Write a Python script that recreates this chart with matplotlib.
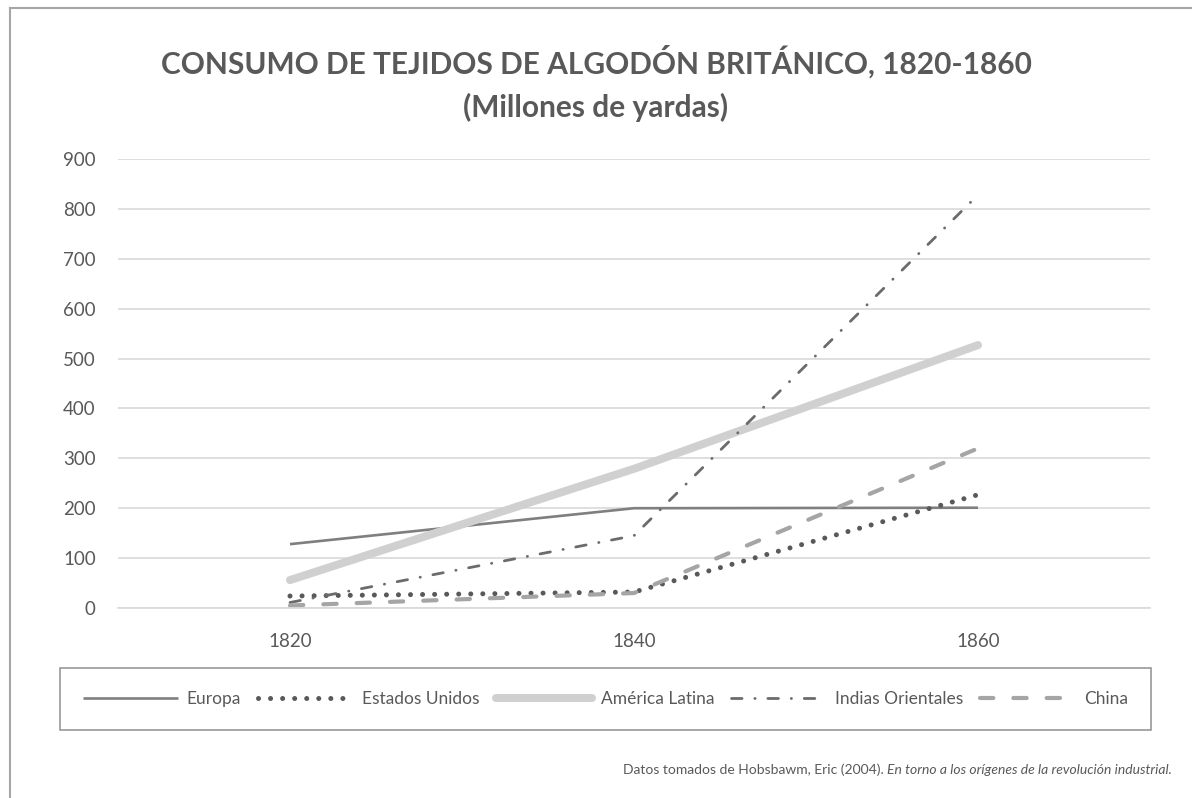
import numpy as np
import matplotlib
matplotlib.use("Agg")
import matplotlib.pyplot as plt
from matplotlib.lines import Line2D
from matplotlib.offsetbox import TextArea, HPacker, AnchoredOffsetbox

# Data (millones de yardas)
years = ["1820", "1840", "1860"]
europa = [128, 200, 201]
estados_unidos = [24, 32, 227]
america_latina = [56, 279, 527]
indias_orientales = [11, 145, 828]
china = [5, 30, 320]

TXT = "#595959"
GRID = "#d9d9d9"
FONT = "Lato"

plt.rcParams.update({"font.family": [FONT, "DejaVu Sans"], "font.size": 12})

fig = plt.figure(figsize=(11.92, 7.98), dpi=100)
W, H = 1192, 798
ax = fig.add_axes([118 / W, 1 - 608 / H, (1150 - 118) / W, (608 - 159) / H])

x = np.arange(len(years))
ax.plot(x, europa, color="#7f7f7f", lw=1.9, solid_capstyle="butt", label="Europa")
ax.plot(x, estados_unidos, color="#595959", lw=3.6, ls=(0, (0.01, 2.4)),
        dash_capstyle="round", label="Estados Unidos")
ax.plot(x, america_latina, color="#d0d0d0", lw=5.8, solid_capstyle="round",
        label="América Latina")
ax.plot(x, indias_orientales, color="#6b6b6b", lw=2.0,
        ls=(0, (3.8, 4.6, 0.1, 4.6)), dash_capstyle="round",
        label="Indias Orientales")
ax.plot(x, china, color="#a5a5a5", lw=3.0, ls=(0, (3.2, 4.8)),
        dash_capstyle="round", label="China")

ax.set_xlim(-0.5, 2.5)
ax.set_ylim(0, 900)
ax.set_yticks(np.arange(0, 901, 100))
ax.set_xticks(x)
ax.set_xticklabels(years)
ax.grid(axis="y", color=GRID, lw=1.2)
ax.set_axisbelow(True)
for s in ["left", "right", "top"]:
    ax.spines[s].set_visible(False)
ax.spines["bottom"].set_color(GRID)
ax.spines["bottom"].set_linewidth(1.2)
ax.tick_params(length=0, labelsize=13.5, colors=TXT, pad=16)
ax.tick_params(axis="x", pad=18)

fig.text(0.5, 1 - 62 / H, "CONSUMO DE TEJIDOS DE ALGODÓN BRITÁNICO, 1820-1860",
         ha="center", va="center", fontsize=21.5, fontweight="bold", color=TXT)
fig.text(0.5, 1 - 107 / H, "(Millones de yardas)",
         ha="center", va="center", fontsize=21.5, fontweight="bold", color=TXT)

leg = fig.legend(loc="center", ncol=5, mode="expand",
                 bbox_to_anchor=(60 / W, 1 - 731 / H, (1151 - 60) / W, 64 / H),
                 frameon=True, fancybox=False, fontsize=12.5, handlelength=5.5,
                 handletextpad=0.5, columnspacing=0.8, borderaxespad=0,
                 borderpad=1.3)
leg.get_frame().set_edgecolor("#7f7f7f")
leg.get_frame().set_linewidth(1.2)
for t in leg.get_texts():
    t.set_color(TXT)

# Source note, regular + italic
part1 = TextArea("Datos tomados de Hobsbawm, Eric (2004). ",
                 textprops=dict(color=TXT, fontsize=10.0, family=FONT))
part2 = TextArea("En torno a los orígenes de la revolución industrial.",
                 textprops=dict(color=TXT, fontsize=10.0, family=FONT, style="italic"))
box = HPacker(children=[part1, part2], pad=0, sep=0, align="baseline")
anch = AnchoredOffsetbox(loc="center right", child=box, frameon=False,
                         bbox_to_anchor=(1172 / W, 1 - 770 / H),
                         bbox_transform=fig.transFigure, borderpad=0, pad=0)
fig.add_artist(anch)

# outer chart border (left + top)
fig.add_artist(Line2D([9.5 / W, 9.5 / W], [0, 1 - 8 / H], color="#a6a6a6", lw=1.5,
                      transform=fig.transFigure))
fig.add_artist(Line2D([9.5 / W, 1], [1 - 8 / H, 1 - 8 / H], color="#a6a6a6", lw=1.5,
                      transform=fig.transFigure))

fig.savefig("out.png", dpi=100, facecolor="white")
